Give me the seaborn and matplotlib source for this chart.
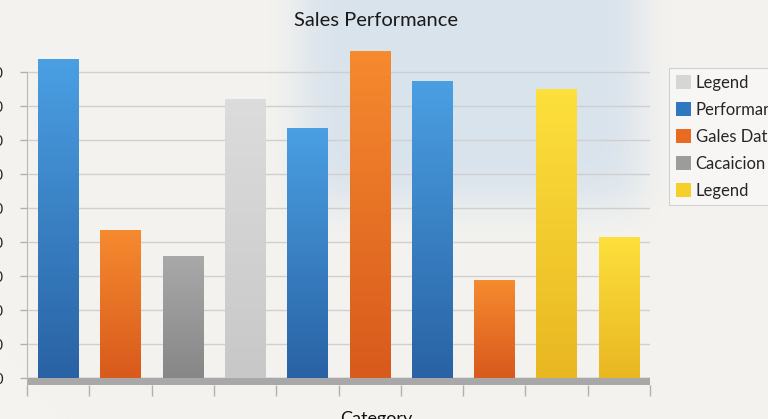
import numpy as np
import pandas as pd
import matplotlib
matplotlib.use("Agg")
import matplotlib.pyplot as plt
import matplotlib.patches as mpatches
from matplotlib.colors import to_rgb
import seaborn as sns

# data
categories = [f"C{i}" for i in range(1, 11)]
values = [93.8, 43.5, 35.9, 82.0, 73.5, 96.2, 87.4, 28.8, 85.0, 41.5]
series = ["Performance", "Gales Data", "Cacaicion", "Legend", "Performance",
          "Gales Data", "Performance", "Gales Data", "Legend2", "Legend2"]
y_ticks = list(range(0, 100, 10))

legend_labels = ["Legend", "Performance", "Gales Data", "Cacaicion", "Legend"]
legend_keys = ["Legend", "Performance", "Gales Data", "Cacaicion", "Legend2"]

# top / bottom gradient colours per series
top_col = {"Performance": "#4a9fe2", "Gales Data": "#f68a2f", "Cacaicion": "#a9a9a9",
           "Legend": "#dcdcdc", "Legend2": "#fde03c"}
bot_col = {"Performance": "#2963a5", "Gales Data": "#d85a1c", "Cacaicion": "#878787",
           "Legend": "#c8c8c8", "Legend2": "#e9b722"}
key_col = {"Performance": "#2f78c0", "Gales Data": "#e86b22", "Cacaicion": "#9c9c9c",
           "Legend": "#d6d6d6", "Legend2": "#f7cf2a"}

df = pd.DataFrame({"category": categories, "value": values, "series": series})

sns.set_style("white")
plt.rcParams["font.family"] = ["Lato", "DejaVu Sans"]

fig = plt.figure(figsize=(7.68, 4.19), dpi=100)

# blurred photo-like background
bg = fig.add_axes([0, 0, 1, 1], zorder=-10)
H, W = 419, 768
yy, xx = np.mgrid[0:H, 0:W]
sig = lambda z: 1 / (1 + np.exp(-z))
mask = sig((xx - 300) / 12) * sig((640 - xx) / 12) * sig((205 - yy) / 14)
base = np.array(to_rgb("#f5f3ef"))
blue = np.array(to_rgb("#d9e3ec"))
img = base * (1 - mask[..., None]) + blue * mask[..., None]
bg.imshow(img, aspect="auto", extent=[0, 1, 0, 1], origin="upper")
bg.axis("off")

ax = fig.add_axes([27 / 768, 1 - 385 / 419, 623 / 768, (385 - 38) / 419])
ax.patch.set_alpha(0)

pal = {c: key_col[s] for c, s in zip(categories, series)}
sns.barplot(data=df, x="category", y="value", hue="category", palette=pal,
            width=0.645, legend=False, ax=ax, zorder=3)

ylim = (-2, 100)
xlim = (-0.5, len(categories) - 0.5)

# gradient fill for each bar
for patch, s in zip(ax.patches, series):
    x0, w, h = patch.get_x(), patch.get_width(), patch.get_height()
    t, b = np.array(to_rgb(top_col[s])), np.array(to_rgb(bot_col[s]))
    grad = np.linspace(0, 1, 64)[:, None, None]
    col = t * (1 - grad) + b * grad
    im = ax.imshow(col, extent=[x0, x0 + w, 0, h], aspect="auto", origin="upper", zorder=3)
    im.set_clip_path(patch)
    patch.set_edgecolor("none")

ax.set_xlim(*xlim)
ax.set_ylim(*ylim)

# floor band
ax.axhspan(-2, 0, color="#a8a8a8", zorder=2)

ax.set_yticks(y_ticks)
ax.set_yticklabels([str(v) for v in y_ticks], fontsize=10.5, color="#222222")
ax.yaxis.grid(True, color="#cfcfcf", linewidth=1, zorder=0)
ax.set_xticks(np.arange(-0.5, len(categories), 1.0))
ax.set_xticklabels([])
ax.tick_params(axis="x", length=8, color="#b0b0b0", width=1, direction="out", bottom=True)
ax.tick_params(axis="y", length=5, color="#b0b0b0", width=1, pad=12, left=True)

for sp in ["top", "right", "bottom"]:
    ax.spines[sp].set_visible(False)
ax.spines["left"].set_color("#b8b8b8")
ax.spines["left"].set_bounds(-2, 90)

ax.set_xlabel("")
ax.set_ylabel("")
fig.text(376 / 768, 1 - 419 / 419, "Category", fontsize=13,
         ha="center", va="center", color="#111111")
fig.text(376 / 768, 1 - 20 / 419, "Sales Performance", fontsize=14.5,
         ha="center", va="center", color="#1a1a1a")

handles = [mpatches.Patch(facecolor=key_col[k], edgecolor="none") for k in legend_keys]
leg = fig.legend(handles, legend_labels, loc="upper left",
                 bbox_to_anchor=(669 / 768, 1 - 68 / 419), fontsize=12,
                 frameon=True, handlelength=0.9, handleheight=0.9, handletextpad=0.3,
                 labelspacing=0.66, borderpad=0.4, borderaxespad=0, fancybox=False)
leg.get_frame().set_edgecolor("#c8c8c8")
leg.get_frame().set_facecolor("#f8f8f8")
leg.get_frame().set_linewidth(0.8)

fig.savefig("out.png", dpi=100)
